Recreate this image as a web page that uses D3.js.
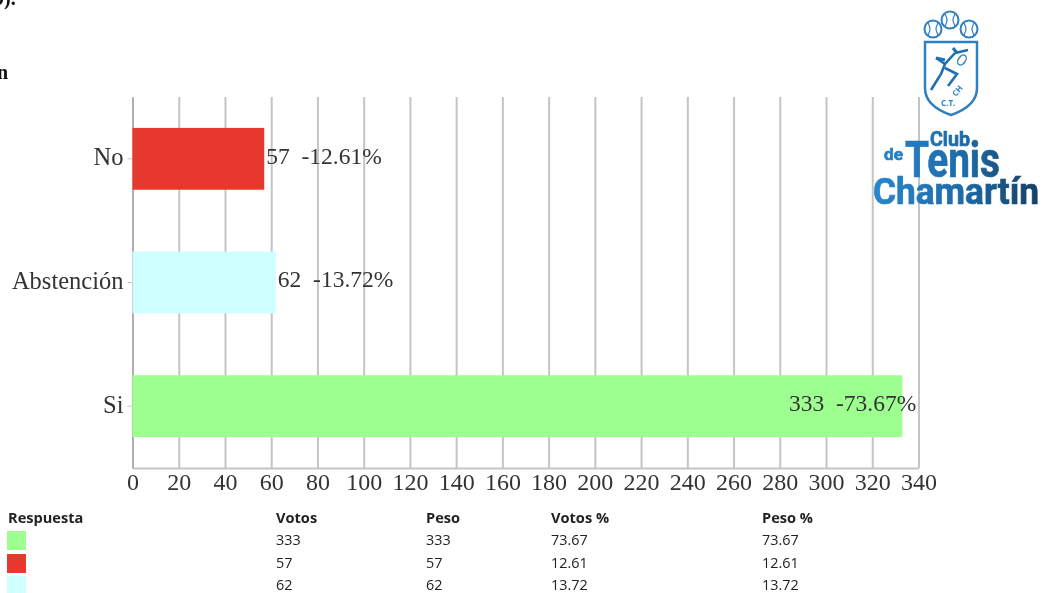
<!DOCTYPE html>
<html><head><meta charset="utf-8">
<script src="https://cdn.jsdelivr.net/npm/d3@7"></script>
<style>html,body{margin:0;padding:0;background:#fff;overflow:hidden}svg{display:block;filter:blur(0.45px)}</style>
</head><body><svg id="c" width="1044" height="593"></svg>
<script>
const categories=["No","Abstención","Si"];
const votes=[57,62,333];
const percents=["12.61","13.72","73.67"];
const barColors=["#e8392e","#d0ffff","#9dff8f"];
const tickValues=d3.range(0,341,20);
const tableHeaders=["Respuesta","Votos","Peso","Votos %","Peso %"];
const tableOrder=[2,0,1];

const svg=d3.select("#c");
const serif="'Liberation Serif',serif", sans="'Open Sans',sans-serif";
const x=d3.scaleLinear().domain([0,340]).range([132.5,918.5]);
const y=d3.scaleBand().domain(categories).range([97,468]).paddingInner(0.5).paddingOuter(0.25);
const grey="#c4c4c4";

// fragments of page text
svg.append("text").attr("x",-6).attr("y",5).attr("font-family",serif).attr("font-weight","bold").attr("font-size",20).attr("fill","#111").text("9).");
svg.append("text").attr("x",-3).attr("y",79).attr("font-family",serif).attr("font-weight","bold").attr("font-size",20).attr("fill","#111").text("n");

// grid + axes
const gx=svg.append("g").attr("transform","translate(0,468)")
 .call(d3.axisBottom(x).tickValues(tickValues).tickSize(-371).tickSizeOuter(0));
gx.select(".domain").attr("stroke",grey).attr("stroke-width",2);
gx.selectAll(".tick line").attr("stroke",grey).attr("stroke-width",2);
gx.selectAll(".tick text").attr("font-family",serif).attr("font-size",24).attr("fill","#333").attr("y",3).attr("dy","0.78em");

const gy=svg.append("g").attr("transform","translate(132.5,0)")
 .call(d3.axisLeft(y).tickSize(5).tickSizeOuter(0));
gy.select(".domain").attr("stroke","#b0b0b0").attr("stroke-width",2);
gy.selectAll(".tick line").attr("stroke",grey);
gy.selectAll(".tick text").attr("font-family",serif).attr("font-size",24.5).attr("fill","#333").attr("x",-9).attr("dy","0.26em");

// bars
svg.append("g").selectAll("rect").data(categories).join("rect")
 .attr("x",x(0)).attr("y",d=>y(d))
 .attr("width",(d,i)=>x(votes[i])-x(0)).attr("height",y.bandwidth())
 .attr("fill",(d,i)=>barColors[i]);

// value labels
svg.append("g").selectAll("text").data(categories).join("text")
 .attr("x",(d,i)=>votes[i]>300?x(votes[i])+14:x(votes[i])+2)
 .attr("text-anchor",(d,i)=>votes[i]>300?"end":"start")
 .attr("y",d=>y(d)+y.bandwidth()/2).attr("dy","0.2em")
 .attr("font-family",serif).attr("font-size",23.5).attr("fill","#333")
 .attr("xml:space","preserve").style("white-space","pre")
 .text((d,i)=>votes[i]+"  -"+percents[i]+"%");

// table
const colX=[8,276,426,551,762];
const rowY=[523,545,568,590];
svg.append("g").selectAll("text").data(tableHeaders).join("text")
 .attr("x",(d,i)=>colX[i]).attr("y",rowY[0])
 .attr("font-family",sans).attr("font-size",14.6).attr("font-weight",700).attr("fill","#222").text(d=>d);
tableOrder.forEach((k,r)=>{
 const yy=rowY[r+1];
 svg.append("rect").attr("x",7).attr("y",yy-14).attr("width",19).attr("height",19).attr("fill",barColors[k]);
 [votes[k],votes[k],percents[k],percents[k]].forEach((v,j)=>{
  svg.append("text").attr("x",colX[j+1]).attr("y",yy).attr("font-family",sans).attr("font-size",14.4).attr("fill","#222").text(v);
 });
});

// logo
const logo=svg.append("g").attr("fill","none").attr("stroke","#2f7fc1");
[[933,29],[950,20],[969,29]].forEach(p=>{
 logo.append("circle").attr("cx",p[0]).attr("cy",p[1]).attr("r",8.5).attr("stroke-width",2);
 logo.append("path").attr("stroke-width",1.2).attr("d",d3.line().curve(d3.curveBasis)([[p[0]-5,p[1]-6],[p[0]-2,p[1]],[p[0]-5,p[1]+6]]));
 logo.append("path").attr("stroke-width",1.2).attr("d",d3.line().curve(d3.curveBasis)([[p[0]+5,p[1]-6],[p[0]+2,p[1]],[p[0]+5,p[1]+6]]));
});
logo.append("path").attr("stroke-width",2.5).attr("d","M925,42 L977,42 L977,88 Q977,106 951,115 Q925,106 925,88 Z");
logo.append("path").attr("stroke","#1f6fb5").attr("stroke-width",2.6).attr("d","M931,90 L941,74 L945,64 L955,53 M945,68 L957,74 L948,86 M945,64 L936,58 M955,53 L968,50");
logo.append("path").attr("stroke","#1f6fb5").attr("stroke-width",3).attr("d","M936,58 L945,60 M953,48 L957,53");
logo.append("ellipse").attr("cx",962).attr("cy",60).attr("rx",3.5).attr("ry",5.5).attr("transform","rotate(35 962 60)").attr("stroke-width",1.4);
svg.append("text").attr("x",941).attr("y",106).attr("font-family",sans).attr("font-size",8).attr("font-weight",700).attr("fill","#2f7fc1").text("C.T.");
svg.append("text").attr("x",956).attr("y",97).attr("font-family",sans).attr("font-size",8).attr("font-weight",700).attr("fill","#2f7fc1").attr("transform","rotate(-50 956 97)").text("CH");
const lg=svg.append("defs").append("linearGradient").attr("id","lg").attr("gradientUnits","userSpaceOnUse").attr("x1",872).attr("x2",1040).attr("y1",0).attr("y2",0);
lg.append("stop").attr("offset",0).attr("stop-color","#2a86cc");
lg.append("stop").attr("offset",0.55).attr("stop-color","#1d6aa8");
lg.append("stop").attr("offset",1).attr("stop-color","#173f63");
const lt=(s,xx,yy,fs,ls)=>svg.append("text").attr("x",xx).attr("y",yy).attr("font-family","'Roboto',sans-serif").attr("font-weight",700).attr("font-size",fs).attr("fill","url(#lg)").attr("stroke","url(#lg)").attr("stroke-width",0.7).attr("textLength",ls).attr("lengthAdjust","spacingAndGlyphs").text(s);
lt("Club",930,146,20,40);
lt("de",884,160,17,19);
lt("Tenis",905,177,50,95);
lt("Chamartín",873,204,37,166);
</script></body></html>
